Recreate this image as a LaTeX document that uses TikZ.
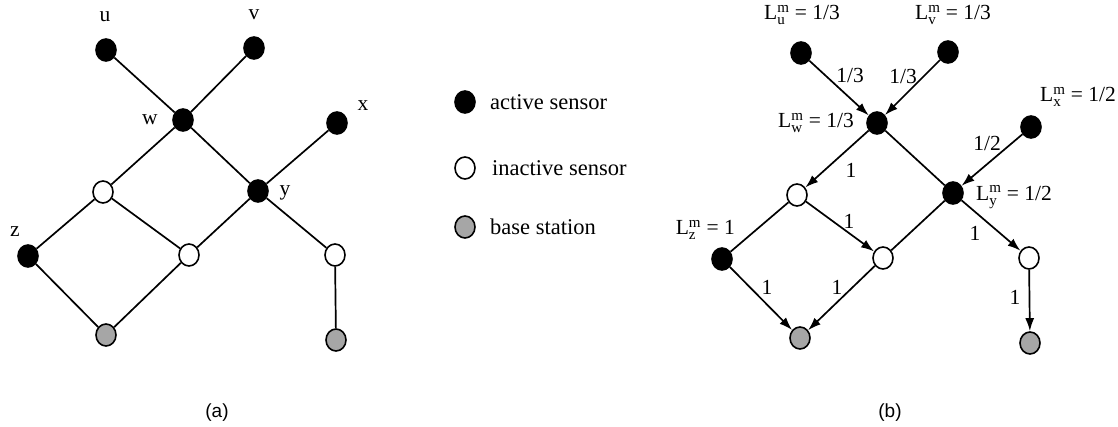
\documentclass[tikz,border=0pt]{standalone}
\usepackage{fontspec}
\setmainfont{Liberation Serif}
\newfontfamily\capfont{Liberation Sans}
\usetikzlibrary{shapes.geometric,arrows.meta}
\tikzset{
  sensor/.style={ellipse,draw,line width=1.6pt,inner sep=0pt,minimum width=20pt,minimum height=22pt},
  active/.style={sensor,fill=black},
  inactive/.style={sensor,fill=white},
  basest/.style={sensor,fill=black!35},
  lnk/.style={line width=1.7pt},
  arr/.style={line width=1.7pt,-{Latex[length=13pt,width=9pt]}},
  lab/.style={font=\fontsize{21.5}{24}\selectfont,inner sep=0pt},
  legtxt/.style={lab,font=\fontsize{22.5}{25}\selectfont,anchor=west},
  captxt/.style={font=\capfont\fontsize{19}{22}\selectfont,inner sep=0pt},
}
\begin{document}
\begin{tikzpicture}[x=1pt,y=-1pt]
\useasboundingbox (0,0) rectangle (1118,427);
% ---------- (a) ----------
\node[active] (au) at (106,50) {};
\node[active] (av) at (254,48) {};
\node[active] (aw) at (183,120) {};
\node[active] (ax) at (337,123) {};
\node[active] (ay) at (258,191) {};
\node[inactive] (ai1) at (103,192) {};
\node[active] (az) at (28,256) {};
\node[inactive] (ai2) at (189,255) {};
\node[inactive] (ai3) at (335,255) {};
\node[basest] (ag1) at (106,335) {};
\node[basest] (ag2) at (336,340) {};
\node[lab] (lu) at (105,17) {u};
\node[lab] (lv) at (254,15) {v};
\node[lab] (lw) at (150,120) {w};
\node[lab] (lx) at (363,106) {x};
\node[lab] (ly) at (285,193) {y};
\node[lab] (lz) at (15,232) {z};
\draw[lnk] (au) -- (aw);
\draw[lnk] (av) -- (aw);
\draw[lnk] (aw) -- (ai1);
\draw[lnk] (aw) -- (ay);
\draw[lnk] (ax) -- (ay);
\draw[lnk] (ai1) -- (az);
\draw[lnk] (ai1) -- (ai2);
\draw[lnk] (ay) -- (ai2);
\draw[lnk] (ay) -- (ai3);
\draw[lnk] (az) -- (ag1);
\draw[lnk] (ai2) -- (ag1);
\draw[lnk] (ai3) -- (ag2);
\node[captxt] (capa) at (217,413) {(a)};
% ---------- legend ----------
\node[active] (k1) at (465,102) {};
\node[inactive] (k2) at (465,168) {};
\node[basest] (k3) at (465,227) {};
\node[legtxt] (t1) at (490,102) {active sensor};
\node[legtxt] (t2) at (492,168) {inactive sensor};
\node[legtxt] (t3) at (490,227) {base station};
% ---------- (b) ----------
\node[active] (bu) at (801,53) {};
\node[active] (bv) at (948,52) {};
\node[active] (bw) at (877,123) {};
\node[active] (bx) at (1031,127) {};
\node[active] (by) at (953,193) {};
\node[inactive] (bi1) at (797,195) {};
\node[active] (bz) at (722,259) {};
\node[inactive] (bi2) at (883,258) {};
\node[inactive] (bi3) at (1029,258) {};
\node[basest] (bg1) at (800,338) {};
\node[basest] (bg2) at (1030,343) {};
\node[lab] (Lu) at (802,15) {$\mathrm{L^m_u}$ = 1/3};
\node[lab] (Lv) at (953,15) {$\mathrm{L^m_v}$ = 1/3};
\node[lab] (Lx) at (1078,97) {$\mathrm{L^m_x}$ = 1/2};
\node[lab,anchor=east] (Lw) at (854,123) {$\mathrm{L^m_w}$ = 1/3};
\node[lab,anchor=west] (Ly) at (976,197) {$\mathrm{L^m_y}$ = 1/2};
\node[lab,anchor=east] (Lz) at (735,230) {$\mathrm{L^m_z}$ = 1};
\draw[arr] (bu) -- (bw);
\draw[arr] (bv) -- (bw);
\draw[arr] (bw) -- (bi1);
\draw[lnk] (bw) -- (by);
\draw[arr] (bx) -- (by);
\draw[lnk] (bi1) -- (bz);
\draw[arr] (bi1) -- (bi2);
\draw[lnk] (by) -- (bi2);
\draw[arr] (by) -- (bi3);
\draw[arr] (bz) -- (bg1);
\draw[arr] (bi2) -- (bg1);
\draw[arr] (bi3) -- (bg2);
\node[lab] (e1) at (850,75) {1/3};
\node[lab] (e2) at (903,76) {1/3};
\node[lab] (e3) at (851,170) {1};
\node[lab] (e4) at (987,143) {1/2};
\node[lab] (e5) at (849,221) {1};
\node[lab] (e6) at (975,233) {1};
\node[lab] (e7) at (767,287) {1};
\node[lab] (e8) at (837,287) {1};
\node[lab] (e9) at (1015,297) {1};
\node[captxt] (capb) at (890,413) {(b)};
\end{tikzpicture}
\end{document}
